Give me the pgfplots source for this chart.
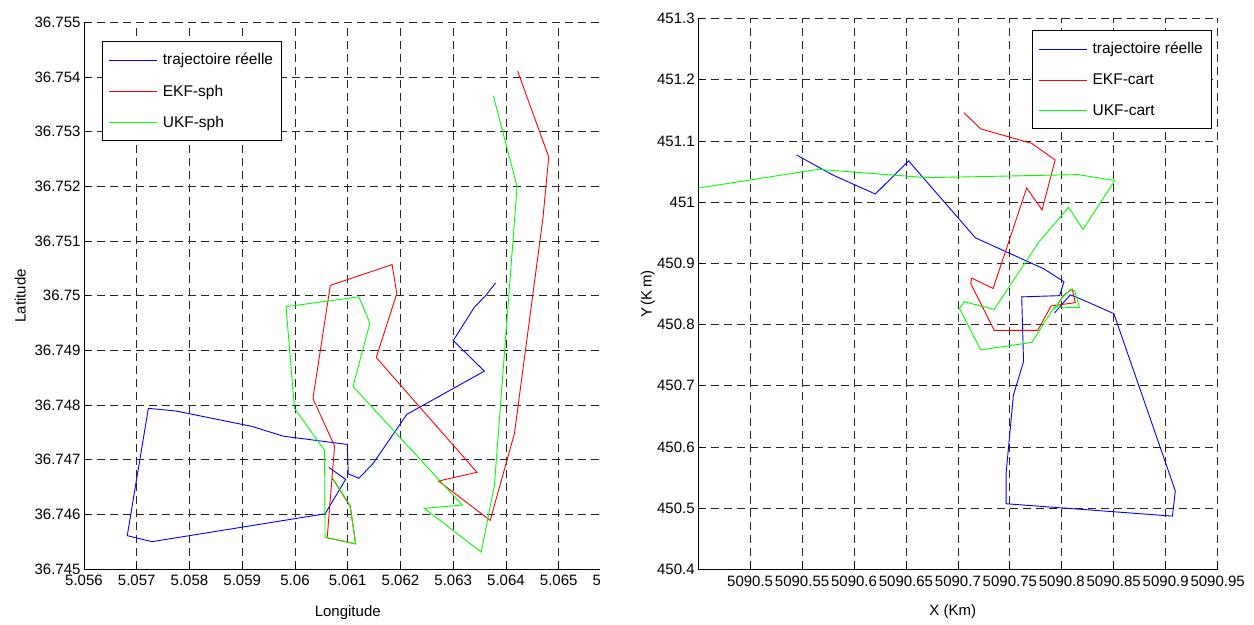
\documentclass[border=0pt]{standalone}
\usepackage{fontspec}
\setmainfont{Liberation Sans}
\usepackage{pgfplots}
\pgfplotsset{compat=1.18}
% Data are stored as offsets from a reference point to keep full precision:
% left axis: (Longitude - 5.06, Latitude - 36.75) in degrees
% right axis: (X - 5090.7, Y - 450.8) in km
\pgfplotsset{
  legend image code/.code={\draw[#1] (0bp,0bp) -- (48bp,0bp);},
  mat/.style={
    scale only axis, anchor=south west,
    axis x line*=bottom, axis y line*=left,
    axis line style={black, line width=0.8bp},
    grid=major,
    major grid style={black!85, line width=0.8bp, dash pattern=on 8bp off 5bp},
    tick align=inside,
    major tick length=5bp,
    tick style={black, line width=0.8bp},
    scaled ticks=false,
    ticklabel style={font=\fontsize{15bp}{17bp}\selectfont},
    xticklabel style={yshift=-3bp},
    legend cell align=left,
    legend style={draw=black, line width=1bp, fill=white,
      font=\fontsize{15.5bp}{17bp}\selectfont,
      inner xsep=6bp, inner ysep=9.5bp, row sep=13.5bp, column sep=3bp,
      nodes={inner sep=2.5bp}},
    every axis plot/.append style={line width=0.9bp},
  }
}
\begin{document}
\begin{tikzpicture}[font=\fontsize{15bp}{17bp}\selectfont]
\path[use as bounding box] (0,0) rectangle (1254bp,625bp);
\begin{axis}[mat, at={(84bp,56bp)}, width=527.5bp, height=546.5bp,
  xmin=-0.004, xmax=0.006, ymin=-0.005, ymax=0.005,
  xtick={-0.004,-0.003,-0.002,-0.001,0,0.001,0.002,0.003,0.004,0.005,0.006},
  xticklabels={5.056,5.057,5.058,5.059,5.06,5.061,5.062,5.063,5.064,5.065,5.066},
  ytick={-0.005,-0.004,-0.003,-0.002,-0.001,0,0.001,0.002,0.003,0.004,0.005},
  yticklabels={36.745,36.746,36.747,36.748,36.749,36.75,36.751,36.752,36.753,36.754,36.755},
  xlabel={Longitude}, ylabel={Latitude},
  every axis x label/.style={at={(axis description cs:0.5,-0.079)}, anchor=center},
  every axis y label/.style={at={(axis description cs:-0.121,0.5)}, rotate=90, anchor=center},
  legend style={at={(0.034,0.966)}, anchor=north west},
]
\addplot[color=blue] coordinates {
(0.00380,0.00023) (0.00362,0.00001) (0.00340,-0.00021) (0.00300,-0.00082)
(0.00359,-0.00138) (0.00212,-0.00217) (0.00148,-0.00307) (0.00121,-0.00334)
(0.00101,-0.00326) (0.00099,-0.00272) (-0.00022,-0.00257) (-0.00082,-0.00239)
(-0.00225,-0.00211) (-0.00278,-0.00206) (-0.00318,-0.00439) (-0.00271,-0.00450)
(0.00057,-0.00399) (0.00096,-0.00336) (0.00064,-0.00314)
};
\addplot[color=red] coordinates {
(0.00422,0.00411) (0.00481,0.00254) (0.00470,0.00142) (0.00416,-0.00252)
(0.00370,-0.00411) (0.00272,-0.00339) (0.00345,-0.00323) (0.00154,-0.00113)
(0.00193,0.00004) (0.00184,0.00057) (0.00067,0.00019) (0.00034,-0.00188)
(0.00075,-0.00275) (0.00061,-0.00443) (0.00115,-0.00454) (0.00105,-0.00386)
(0.00071,-0.00334)
};
\addplot[color=green] coordinates {
(0.00376,0.00366) (0.00421,0.00200) (0.00378,-0.00347) (0.00353,-0.00469)
(0.00245,-0.00389) (0.00317,-0.00383) (0.00110,-0.00166) (0.00142,-0.00050)
(0.00121,-0.00002) (-0.00017,-0.00020) (-0.00001,-0.00206) (0.00056,-0.00283)
(0.00057,-0.00442) (0.00115,-0.00454) (0.00104,-0.00383) (0.00071,-0.00333)
};
\legend{trajectoire réelle, EKF-sph, UKF-sph}
\end{axis}
% the left panel of the reference is cut off at its right side
\fill[white] (600bp,0bp) rectangle (640bp,625bp);
\begin{axis}[mat, at={(698.2bp,55.5bp)}, width=519.4bp, height=551bp,
  xmin=-0.25, xmax=0.25, ymin=-0.4, ymax=0.5,
  xtick={-0.2,-0.15,-0.1,-0.05,0,0.05,0.1,0.15,0.2,0.25},
  xticklabels={5090.5,5090.55,5090.6,5090.65,5090.7,5090.75,5090.8,5090.85,5090.9,5090.95},
  ytick={-0.4,-0.3,-0.2,-0.1,0,0.1,0.2,0.3,0.4,0.5},
  yticklabels={450.4,450.5,450.6,450.7,450.8,450.9,451,451.1,451.2,451.3},
  xlabel={X (Km)}, ylabel={Y\,(K\,m)},
  every axis x label/.style={at={(axis description cs:0.49,-0.077)}, anchor=center},
  every axis y label/.style={at={(axis description cs:-0.097,0.5)}, rotate=90, anchor=center},
  legend style={at={(0.989,0.979)}, anchor=north east},
]
\addplot[color=blue] coordinates {
(-0.1554,0.2771) (-0.1206,0.2445) (-0.0795,0.2133) (-0.0475,0.2674)
(0.0169,0.1417) (0.0830,0.0909) (0.1021,0.0700) (0.0979,0.0473)
(0.0614,0.0453) (0.0632,-0.0602) (0.0534,-0.1155) (0.0464,-0.2425)
(0.0464,-0.2926) (0.2065,-0.3128) (0.2093,-0.2717) (0.1501,0.0180)
(0.1140,0.0450) (0.1081,0.0486) (0.0930,0.0190)
};
\addplot[color=red] coordinates {
(0.0058,0.3461) (0.0220,0.3197) (0.0710,0.2960) (0.0936,0.2689)
(0.0810,0.1874) (0.0662,0.2231) (0.0339,0.0590) (0.0133,0.0760)
(0.0123,0.0673) (0.0349,-0.0093) (0.0769,-0.0093) (0.0897,0.0304)
(0.1130,0.0359) (0.1101,0.0579) (0.1014,0.0474) (0.0965,0.0342)
};
\addplot[color=green] coordinates {
(-0.2500,0.2230) (-0.1345,0.2536) (-0.0301,0.2400) (0.1156,0.2450)
(0.1510,0.2354) (0.1204,0.1554) (0.1065,0.1917) (0.0780,0.1350)
(0.0349,0.0248) (0.0058,0.0375) (0.0016,0.0260) (0.0220,-0.0413)
(0.0711,-0.0291) (0.0929,0.0288) (0.1171,0.0276) (0.1123,0.0552)
(0.1091,0.0579) (0.1011,0.0453) (0.0926,0.0248)
};
\legend{trajectoire réelle, EKF-cart, UKF-cart}
\end{axis}
\end{tikzpicture}
\end{document}
